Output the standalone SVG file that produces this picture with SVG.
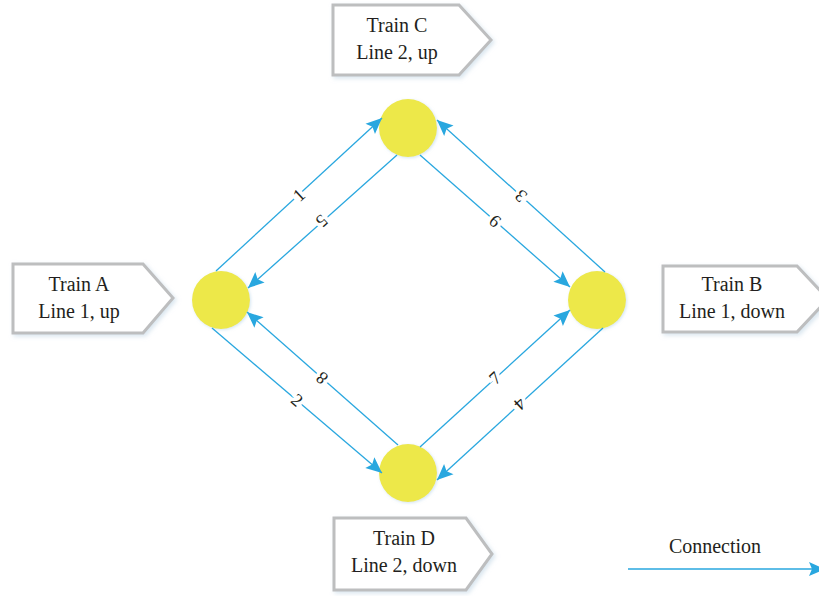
<svg xmlns="http://www.w3.org/2000/svg" width="819" height="596" viewBox="0 0 819 596">
<defs>
<style>
.box{fill:#ffffff;stroke:#bdbebf;stroke-width:3;filter:url(#sh)}
.lbl{font-family:"Liberation Serif",serif;font-size:20px;fill:#231f20;text-anchor:middle}
.node{fill:#ede849;filter:url(#sh2)}
.edge{stroke:#29a7df;stroke-width:1.3;fill:none;marker-end:url(#arr)}
.num{font-family:"Liberation Serif",serif;font-size:18px;fill:#231f20;text-anchor:middle;stroke:#ffffff;stroke-width:7;paint-order:stroke}
</style>
<marker id="arr" markerUnits="userSpaceOnUse" markerWidth="20" markerHeight="16" viewBox="0 0 20 16" refX="17" refY="8" orient="auto">
<path d="M1,1 L17,8 L1,15 L4,8 Z" fill="#29a7df"/>
</marker>
<filter id="sh" x="-10%" y="-10%" width="130%" height="130%">
<feDropShadow dx="2" dy="2" stdDeviation="2" flood-color="#c9dbe8" flood-opacity="0.7"/>
</filter>
<filter id="sh2" x="-20%" y="-20%" width="140%" height="140%">
<feDropShadow dx="1" dy="1" stdDeviation="1.5" flood-color="#b8d4ea" flood-opacity="0.6"/>
</filter>
</defs>

<g id="trainC">
<path class="box" d="M333,5 H459 L491,40 L459,75 H333 Z"/>
<text class="lbl" x="397" y="32">Train C</text>
<text class="lbl" x="397" y="59">Line 2, up</text>
</g>
<g id="trainA">
<path class="box" d="M13,264 H143 L173,298 L143,333 H13 Z"/>
<text class="lbl" x="79" y="291">Train A</text>
<text class="lbl" x="79" y="318">Line 1, up</text>
</g>
<g id="trainB">
<path class="box" d="M663,266 H797 L828,299 L797,332 H663 Z"/>
<text class="lbl" x="732" y="291">Train B</text>
<text class="lbl" x="732" y="318">Line 1, down</text>
</g>
<g id="trainD">
<path class="box" d="M334,518 H466 L492,554 L466,590 H334 Z"/>
<text class="lbl" x="404" y="545">Train D</text>
<text class="lbl" x="404" y="572">Line 2, down</text>
</g>

<g id="nodeA"><circle class="node" cx="221" cy="300" r="29"/></g>
<g id="nodeC"><circle class="node" cx="408" cy="128" r="29"/></g>
<g id="nodeB"><circle class="node" cx="597" cy="300" r="29"/></g>
<g id="nodeD"><circle class="node" cx="408" cy="473" r="29"/></g>

<g id="connectors">
<line class="edge" x1="216" y1="271" x2="382" y2="118"/>
<line class="edge" x1="397" y1="155" x2="248" y2="288"/>
<line class="edge" x1="605" y1="272" x2="437" y2="120"/>
<line class="edge" x1="420" y1="155" x2="570" y2="287"/>
<line class="edge" x1="212" y1="328" x2="382" y2="473"/>
<line class="edge" x1="398" y1="445" x2="247" y2="312"/>
<line class="edge" x1="420" y1="447" x2="570" y2="310"/>
<line class="edge" x1="603" y1="328" x2="437" y2="480"/>
<line class="edge" x1="628" y1="569" x2="825" y2="569"/>
</g>

<g id="edgeLabels">
<text class="num" transform="translate(299,195) rotate(-42.7)" dy="6">1</text>
<text class="num" transform="translate(322,221) rotate(138.2)" dy="6">5</text>
<text class="num" transform="translate(521,196) rotate(-137.9)" dy="6">3</text>
<text class="num" transform="translate(495,221) rotate(41.3)" dy="6">6</text>
<text class="num" transform="translate(297,400) rotate(40.5)" dy="6">2</text>
<text class="num" transform="translate(322,378) rotate(-138.6)" dy="6">8</text>
<text class="num" transform="translate(495,378) rotate(-42.4)" dy="6">7</text>
<text class="num" transform="translate(520,404) rotate(137.5)" dy="6">4</text>
</g>

<g id="legend">
<text class="lbl" x="715" y="553">Connection</text>
</g>
</svg>
